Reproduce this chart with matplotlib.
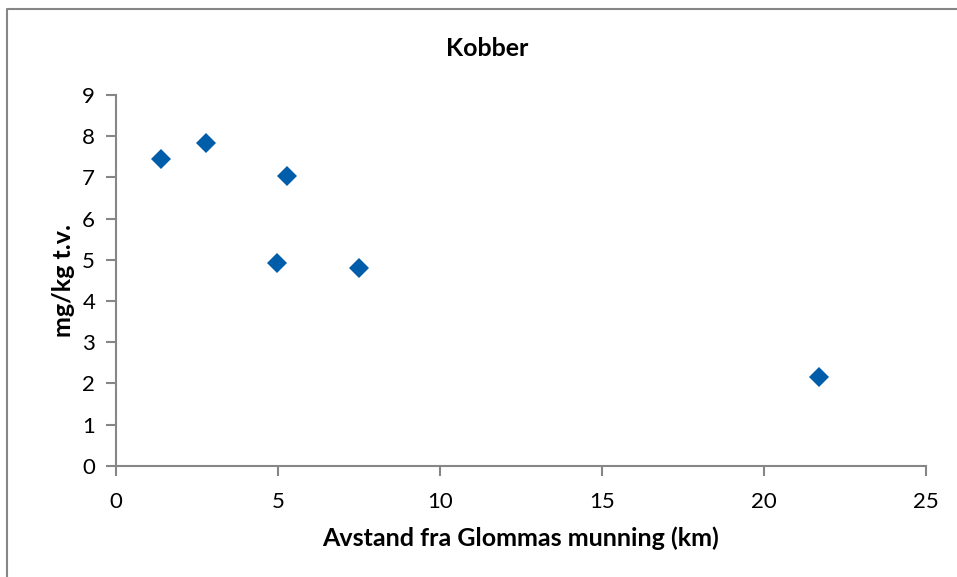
import matplotlib.pyplot as plt
from matplotlib.lines import Line2D

# distance from Glomma river mouth (km) and copper content (mg/kg dry weight)
avstand_km = [1.38, 2.78, 5.29, 4.98, 7.49, 21.70]
kobber = [7.44, 7.84, 7.04, 4.91, 4.79, 2.16]

x_ticks = [0, 5, 10, 15, 20, 25]
y_ticks = [0, 1, 2, 3, 4, 5, 6, 7, 8, 9]

grey = '#868686'
plt.rcParams['font.family'] = ['Lato', 'DejaVu Sans']

fig = plt.figure(figsize=(9.57, 5.77), dpi=100)
ax = fig.add_axes([0.1212, 0.1929, 0.8464, 0.6425])

ax.plot(avstand_km, kobber, linestyle='none', marker='D', markersize=10,
        color='#005DAA', markeredgewidth=0)

ax.set_xlim(0, 25)
ax.set_ylim(0, 9)
ax.set_xticks(x_ticks)
ax.set_yticks(y_ticks)

for side in ['top', 'right']:
    ax.spines[side].set_visible(False)
for side in ['left', 'bottom']:
    ax.spines[side].set_color(grey)
    ax.spines[side].set_linewidth(1.5)
ax.tick_params(direction='out', length=7, width=1.5, color=grey,
               labelsize=16, labelcolor='black', pad=8)
ax.tick_params(axis='x', pad=12)

# title is centred on the chart area, not the plot area
fig.text(487 / 957, 1 - 48 / 577, 'Kobber', fontsize=18, fontweight='bold',
         ha='center', va='center')
ax.set_xlabel('Avstand fra Glommas munning (km)', fontsize=18, fontweight='bold', labelpad=10)
ax.set_ylabel('mg/kg t.v.', fontsize=18, fontweight='bold', labelpad=5)

# chart area border (left and top only visible)
fig.lines.append(Line2D([7 / 957, 7 / 957, 1.0], [0.0, 1 - 8.5 / 577, 1 - 8.5 / 577],
                        transform=fig.transFigure, color=grey, linewidth=1.5))

fig.savefig('out.png', dpi=100)
